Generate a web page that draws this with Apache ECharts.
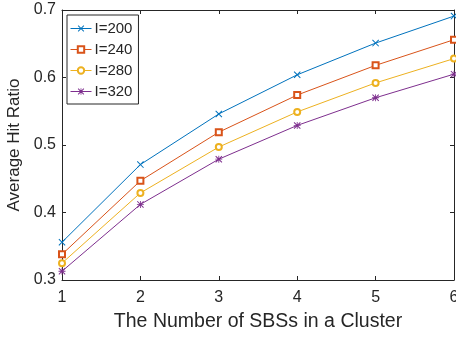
<!DOCTYPE html>
<html>
<head>
<meta charset="utf-8">
<script src="https://cdn.jsdelivr.net/npm/echarts@6/dist/echarts.min.js"></script>
<style>
  html, body { margin: 0; padding: 0; background: #fff; }
  #chart { width: 456px; height: 337px; }
</style>
</head>
<body>
<div id="chart"></div>
<script>
// data
const clusterSizes = [1, 2, 3, 4, 5, 6];
const seriesNames = ['I=200', 'I=240', 'I=280', 'I=320'];
const hitI200 = [0.356, 0.471, 0.546, 0.604, 0.651, 0.691];
const hitI240 = [0.338, 0.447, 0.519, 0.574, 0.618, 0.656];
const hitI280 = [0.325, 0.429, 0.497, 0.549, 0.592, 0.628];
const hitI320 = [0.313, 0.412, 0.479, 0.529, 0.570, 0.605];
const yTicks = [0.3, 0.4, 0.5, 0.6, 0.7];

const colors = ['#0072BD', '#D95319', '#EDB120', '#7E2F8E'];
// marker shapes, matlab like: x, square, circle, asterisk
const xMark = 'path://M0,1 L1,0 L10,9 L9,10 Z M9,0 L10,1 L1,10 L0,9 Z';
const starMark = 'path://M0,1 L1,0 L10,9 L9,10 Z M9,0 L10,1 L1,10 L0,9 Z M4.4,0 L5.6,0 L5.6,10 L4.4,10 Z M0,4.4 L10,4.4 L10,5.6 L0,5.6 Z';
const symbols = [xMark, 'emptyRect', 'emptyCircle', starMark];
const allValues = [hitI200, hitI240, hitI280, hitI320];

const font = 'Liberation Sans, Arial, Helvetica, sans-serif';
const axisCol = '#262626';

let chart = echarts.init(document.getElementById('chart'));

let series = seriesNames.map((name, i) => ({
  name: name,
  type: 'line',
  data: clusterSizes.map((x, k) => [x, allValues[i][k]]),
  symbol: symbols[i],
  symbolSize: i === 1 || i === 2 ? 6 : 7,
  showSymbol: true,
  lineStyle: { width: 1, color: colors[i] },
  itemStyle: { color: colors[i], borderWidth: 1 },
  emphasis: { disabled: true },
  animation: false
}));

let boxAxisX = (pos, show) => ({
  type: 'value',
  position: pos,
  min: 1, max: 6, interval: 1,
  axisLine: { show: true, onZero: false, lineStyle: { color: axisCol, width: 1 } },
  axisTick: { show: true, inside: true, length: 4, lineStyle: { color: axisCol } },
  axisLabel: { show: show, color: '#262626', fontSize: 16, fontFamily: font, margin: 10 },
  splitLine: { show: false }
});
let boxAxisY = (pos, show) => ({
  type: 'value',
  position: pos,
  min: yTicks[0], max: yTicks[yTicks.length - 1], interval: 0.1,
  axisLine: { show: true, onZero: false, lineStyle: { color: axisCol, width: 1 } },
  axisTick: { show: true, inside: true, length: 4, lineStyle: { color: axisCol } },
  axisLabel: { show: show, color: '#262626', fontSize: 16, fontFamily: font, margin: 6,
    formatter: v => v.toFixed(1) },
  splitLine: { show: false }
});

let xBottom = boxAxisX('bottom', true);
xBottom.name = 'The Number of SBSs in a Cluster';
xBottom.nameLocation = 'middle';
xBottom.nameGap = 32;
xBottom.nameTextStyle = { fontSize: 19.5, fontFamily: font, color: '#262626' };

let yLeft = boxAxisY('left', true);
yLeft.name = 'Average Hit Ratio';
yLeft.nameLocation = 'middle';
yLeft.nameGap = 38;
yLeft.nameTextStyle = { fontSize: 17, fontFamily: font, color: '#262626' };

let option = {
  backgroundColor: '#fff',
  animation: false,
  grid: { left: 62, right: 2, top: 10, bottom: 57, containLabel: false, outerBoundsMode: 'none' },
  legend: {
    orient: 'vertical',
    left: 67, top: 15,
    padding: [6, 6, 5, 3],
    itemGap: 6,
    itemWidth: 21, itemHeight: 8,
    backgroundColor: '#fff',
    borderColor: axisCol, borderWidth: 1,
    lineStyle: { width: 1 },
    itemStyle: { borderWidth: 1 },
    textStyle: { fontSize: 15, fontFamily: font, color: '#262626', padding: [0, 0, 0, -2] },
    data: seriesNames
  },
  xAxis: [xBottom, boxAxisX('top', false)],
  yAxis: [yLeft, boxAxisY('right', false)],
  series: series
};
chart.setOption(option);
</script>
</body>
</html>
